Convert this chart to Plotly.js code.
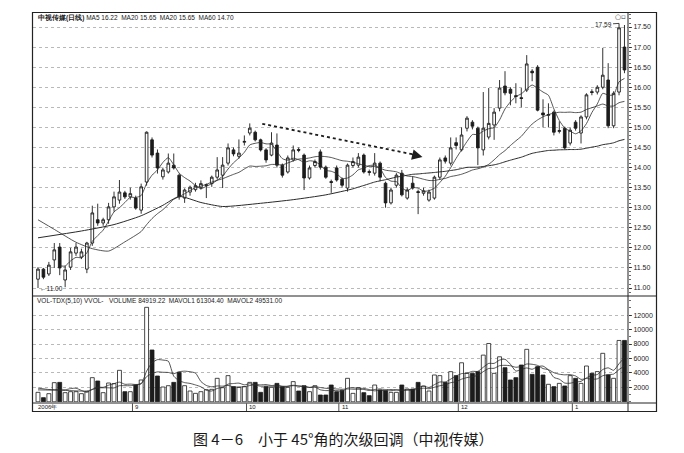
<!DOCTYPE html>
<html>
<head>
<meta charset="utf-8">
<script src="https://cdn.plot.ly/plotly-3.0.1.min.js"></script>
<style>
  html, body { margin: 0; padding: 0; background: #ffffff; }
  #chart { width: 684px; height: 453px; }
</style>
</head>
<body>
<div id="chart"></div>
<script>
// 中视传媒 daily bars, 2006-08 .. 2007-01 (index = trading day)
const opens = [
  11.22, 11.47, 11.35, 11.70, 12.02, 11.20, 11.52, 11.87, 11.77, 11.47,
  12.12, 12.70, 12.62, 12.70, 13.02, 13.19, 13.37, 13.27, 13.24, 12.94,
  13.64, 14.69, 14.36, 13.77, 13.89, 14.06, 13.81, 13.24, 13.39, 13.45,
  13.50, 13.55, 13.60, 13.76, 13.81, 14.11, 14.44, 14.28, 14.63, 14.86,
  14.88, 14.69, 14.44, 14.31, 14.56, 14.06, 13.89, 14.19, 14.45, 14.31,
  13.74, 14.05, 14.39, 14.01, 13.65, 13.99, 13.71, 13.49, 14.05, 14.06,
  14.31, 13.90, 13.86, 14.11, 13.61, 13.12, 13.56, 13.86, 13.24, 13.61,
  13.40, 13.36, 13.19, 13.24, 13.76, 14.24, 14.11, 14.62, 14.44, 14.98,
  15.13, 14.98, 14.44, 14.76, 15.06, 15.48, 16.03, 15.95, 15.79, 15.74,
  15.93, 16.40, 16.50, 15.36, 15.30, 15.38, 14.90, 14.98, 14.61, 15.13,
  14.86, 15.26, 15.89, 15.88, 16.00, 16.18, 15.04, 15.88, 17.00
];
const highs = [
  11.52, 11.50, 11.65, 12.12, 12.12, 11.55, 12.00, 12.12, 11.98, 12.15,
  13.05, 13.10, 12.75, 13.12, 13.40, 13.69, 13.42, 13.50, 13.30, 13.60,
  14.90, 14.75, 14.45, 14.00, 14.35, 14.35, 13.85, 13.48, 13.55, 13.62,
  13.68, 13.60, 13.80, 14.26, 14.26, 14.60, 14.50, 14.70, 14.80, 15.10,
  14.92, 14.72, 14.48, 14.88, 14.85, 14.10, 14.30, 14.55, 14.50, 14.35,
  14.05, 14.20, 14.45, 14.05, 13.70, 14.05, 13.75, 14.10, 14.25, 14.36,
  14.35, 13.95, 14.36, 14.15, 13.65, 13.50, 13.86, 13.94, 13.50, 13.78,
  13.45, 13.50, 13.45, 13.80, 14.25, 14.30, 14.75, 14.75, 15.00, 15.28,
  15.18, 15.02, 15.88, 15.98, 15.48, 16.18, 16.40, 16.00, 16.10, 15.98,
  16.80, 16.45, 16.55, 15.70, 15.60, 15.42, 15.15, 15.02, 15.00, 15.18,
  15.30, 15.85, 15.95, 16.05, 16.98, 16.60, 15.90, 17.59, 17.55
];
const lows = [
  11.00, 11.22, 11.30, 11.50, 11.32, 11.02, 11.45, 11.80, 11.72, 11.37,
  12.05, 12.55, 12.55, 12.60, 12.90, 13.10, 13.22, 13.20, 12.95, 12.85,
  13.55, 14.25, 13.85, 13.70, 13.85, 13.95, 13.20, 13.12, 13.30, 13.40,
  13.45, 13.24, 13.52, 13.70, 13.49, 14.05, 14.28, 14.22, 14.55, 14.80,
  14.65, 14.40, 14.12, 14.28, 14.00, 13.75, 13.85, 14.15, 14.38, 13.44,
  13.70, 14.00, 13.95, 13.72, 13.37, 13.65, 13.50, 13.40, 14.00, 14.00,
  13.85, 13.80, 13.80, 13.66, 13.00, 13.08, 13.50, 13.28, 13.20, 13.45,
  12.84, 13.30, 13.15, 13.20, 13.70, 14.10, 14.05, 14.45, 14.40, 14.90,
  14.95, 14.06, 14.30, 14.70, 14.69, 15.40, 15.80, 15.55, 15.60, 15.50,
  15.88, 16.15, 15.40, 15.00, 15.00, 14.80, 14.85, 14.45, 14.55, 14.92,
  14.60, 15.20, 15.80, 15.82, 15.95, 14.98, 14.98, 15.80, 16.35
];
const closes = [
  11.47, 11.27, 11.57, 11.95, 11.50, 11.45, 11.90, 12.02, 11.90, 12.12,
  12.87, 12.62, 12.70, 13.02, 13.27, 13.39, 13.27, 13.35, 12.99, 13.52,
  14.88, 14.31, 13.99, 13.94, 14.11, 13.99, 13.27, 13.44, 13.51, 13.55,
  13.60, 13.57, 13.76, 13.94, 14.06, 14.49, 14.34, 14.36, 14.65, 14.98,
  14.69, 14.44, 14.19, 14.61, 14.06, 13.81, 14.24, 14.44, 14.43, 13.74,
  13.99, 14.15, 14.01, 13.76, 13.63, 13.69, 13.56, 14.06, 14.15, 14.26,
  13.89, 13.88, 14.11, 13.76, 13.12, 13.44, 13.81, 13.32, 13.44, 13.49,
  13.38, 13.42, 13.39, 13.76, 14.19, 14.16, 14.49, 14.55, 14.81, 15.23,
  15.03, 14.49, 14.98, 15.10, 15.38, 15.98, 15.86, 15.85, 15.77, 15.72,
  16.58, 16.36, 15.43, 15.31, 15.32, 14.88, 14.92, 14.49, 14.93, 14.98,
  15.26, 15.81, 15.87, 16.00, 16.30, 15.04, 15.85, 17.48, 16.43
];
const volumes = [
  13100, 5700, 11250, 26500, 26900, 12650, 14000, 14000, 11250, 14000,
  33400, 28800, 12650, 26000, 25100, 43550, 14000, 14000, 23250, 30200,
  130750, 71700, 35700, 20500, 22300, 26900, 40800, 22300, 14950, 11700,
  14000, 16800, 17250, 32500, 19550, 36200, 20950, 20000, 20950, 26900,
  26900, 13100, 20950, 20000, 25500, 20950, 20000, 27900, 14950, 22300,
  14000, 22300, 9400, 9400, 23250, 14000, 15900, 32500, 11700, 19550,
  12650, 8500, 23250, 16350, 15450, 13100, 13100, 23250, 17700, 17700,
  26900, 21900, 14950, 37100, 36200, 26900, 41700, 36200, 54000, 39400,
  39400, 41700, 64600, 80700, 39400, 62300, 47200, 30200, 33400, 50900,
  72600, 38000, 48600, 37100, 24200, 20950, 25500, 21900, 36200, 32500,
  25500, 49550, 39400, 41838, 67102.78, 37100, 32500, 84900, 84919.22
];

// moving-average values before the first full window
const ma20LeadIdx = [0, 3, 7, 10, 13, 16];
const ma20LeadVal = [12.70, 12.46, 12.14, 11.98, 11.92, 12.15];
const ma60LeadIdx = [0, 8, 14, 19, 23, 26, 30, 34, 41, 47, 53, 58];
const ma60LeadVal = [12.25, 12.42, 12.58, 12.80, 13.06, 13.28, 13.13, 13.03, 13.11, 13.20, 13.32, 13.47];
const volMa5LeadIdx = [0, 2];
const volMa5LeadVal = [19000, 17000];
const volMa10LeadIdx = [0, 4];
const volMa10LeadVal = [16500, 16000];

// axis labels
const priceTicks = [11.00, 11.50, 12.00, 12.50, 13.00, 13.50, 14.00, 14.50, 15.00, 15.50, 16.00, 16.50, 17.00, 17.50];
const volTickVals = [20000, 40000, 60000, 80000, 100000, 120000];
const volTickText = ['2000', '4000', '6000', '8000', '10000', '12000'];
const monthIdx = [0, 18, 39, 56, 78, 99];
const monthText = ['2006年', '9', '10', '11', '12', '1'];

const W = 684, H = 453;
const px = v => v / W;
const py = v => 1 - v / H;

const n = closes.length;
const xi = closes.map((_, i) => i);

function rollingMean(arr, len) {
  return arr.map((_, i) => {
    if (i < len - 1) return null;
    let s = 0;
    for (let k = i - len + 1; k <= i; k++) s += arr[k];
    return s / len;
  });
}
function joinLead(leadIdx, leadVal, full, len) {
  const xs = leadIdx.slice(), ys = leadVal.slice();
  for (let i = len - 1; i < full.length; i++) { xs.push(i); ys.push(full[i]); }
  return { xs, ys };
}

const ma5 = rollingMean(closes, 5);
const ma20 = rollingMean(closes, 20);
const ma60 = rollingMean(closes, 60);
const vma5 = rollingMean(volumes, 5);
const vma10 = rollingMean(volumes, 10);

const ma20Line = joinLead(ma20LeadIdx, ma20LeadVal, ma20, 20);
const ma60Line = joinLead(ma60LeadIdx, ma60LeadVal, ma60, 60);
const vma5Line = joinLead(volMa5LeadIdx, volMa5LeadVal, vma5, 5);
const vma10Line = joinLead(volMa10LeadIdx, volMa10LeadVal, vma10, 10);

const INK = '#1c1c1c';
const up = closes.map((c, i) => c >= opens[i]);

const lineStyle = w => ({ color: '#2a2a2a', width: w, shape: 'spline', smoothing: 0.6 });

const traces = [
  {
    type: 'candlestick', x: xi, open: opens, high: highs, low: lows, close: closes,
    xaxis: 'x', yaxis: 'y', whiskerwidth: 0, hoverinfo: 'skip', showlegend: false,
    increasing: { line: { color: INK, width: 0.9 }, fillcolor: '#ffffff' },
    decreasing: { line: { color: INK, width: 0.9 }, fillcolor: INK }
  },
  { type: 'scatter', mode: 'lines', x: xi.slice(4), y: ma5.slice(4), xaxis: 'x', yaxis: 'y', line: lineStyle(0.8), hoverinfo: 'skip', showlegend: false },
  { type: 'scatter', mode: 'lines', x: ma20Line.xs, y: ma20Line.ys, xaxis: 'x', yaxis: 'y', line: lineStyle(0.8), hoverinfo: 'skip', showlegend: false },
  { type: 'scatter', mode: 'lines', x: ma60Line.xs, y: ma60Line.ys, xaxis: 'x', yaxis: 'y', line: lineStyle(1.0), hoverinfo: 'skip', showlegend: false },
  {
    type: 'bar', x: xi, y: volumes, xaxis: 'x2', yaxis: 'y2', width: 0.72,
    marker: { color: up.map(u => u ? '#ffffff' : INK), line: { color: INK, width: 0.8 } },
    hoverinfo: 'skip', showlegend: false
  },
  { type: 'scatter', mode: 'lines', x: vma5Line.xs, y: vma5Line.ys, xaxis: 'x2', yaxis: 'y2', line: lineStyle(0.8), hoverinfo: 'skip', showlegend: false },
  { type: 'scatter', mode: 'lines', x: vma10Line.xs, y: vma10Line.ys, xaxis: 'x2', yaxis: 'y2', line: lineStyle(0.8), hoverinfo: 'skip', showlegend: false }
];

const f2 = v => v.toFixed(2);
const last = n - 1;
const maxHigh = Math.max(...highs);
const minLow = Math.min(...lows);
const hiIdx = highs.indexOf(maxHigh);
const loIdx = lows.indexOf(minLow);

const smallFont = { family: 'Liberation Sans, Arial, sans-serif', size: 6.5, color: '#1a1a1a' };
const tickFont = { family: 'Liberation Sans, Arial, sans-serif', size: 7, color: '#1a1a1a' };

const xRange = [-0.92, 108.65];
const xDom = [px(33), px(628)];

const annotations = [
  {
    xref: 'paper', yref: 'paper', x: px(36), y: py(18), xanchor: 'left', yanchor: 'middle', showarrow: false,
    text: '<b>中视传媒(日线)</b> MA5 ' + f2(ma5[last]) + '  MA20 ' + f2(ma20[last]) + '  MA20 ' + f2(ma20[last]) + '  MA60 ' + f2(ma60[last]),
    font: smallFont
  },
  {
    xref: 'paper', yref: 'paper', x: px(35), y: py(300.5), xanchor: 'left', yanchor: 'middle', showarrow: false,
    text: 'VOL-TDX(5,10) VVOL-   VOLUME ' + f2(volumes[last]) + '  MAVOL1 ' + f2(vma5[last]) + '  MAVOL2 ' + f2(vma10[last]),
    font: smallFont
  },
  {
    xref: 'x', yref: 'y', x: hiIdx, y: maxHigh, text: f2(maxHigh), showarrow: true,
    arrowhead: 0, arrowwidth: 0.8, arrowcolor: INK, ax: -16, ay: 1, font: smallFont
  },
  {
    xref: 'x', yref: 'y', x: loIdx, y: minLow, text: '←' + f2(minLow), showarrow: false,
    xanchor: 'left', yanchor: 'middle', xshift: 0, font: smallFont
  },
  {
    xref: 'paper', yref: 'paper', x: px(620), y: py(17), text: '○▫', showarrow: false,
    xanchor: 'center', yanchor: 'middle', font: { family: 'DejaVu Sans', size: 7, color: '#333' }
  },
  // trend arrow head
  {
    xref: 'x', yref: 'y', x: 70.8, y: 14.26, ax: -12, ay: -3, text: '', showarrow: true,
    arrowhead: 2, arrowsize: 1.3, arrowwidth: 1.6, arrowcolor: INK
  },
  {
    xref: 'paper', yref: 'paper', x: px(343), y: py(438), xanchor: 'center', yanchor: 'middle', showarrow: false,
    text: '图 4－6　小于 45°角的次级回调（中视传媒）',
    font: { family: 'Noto Sans CJK SC, sans-serif', size: 15, color: '#1a1a1a' }
  }
];
monthIdx.forEach((m, k) => {
  annotations.push({
    xref: 'x2', yref: 'paper', x: m - 0.45, y: py(407), xanchor: 'left', yanchor: 'middle', showarrow: false,
    text: monthText[k], font: { family: 'Liberation Sans, Arial, sans-serif', size: 6, color: '#1a1a1a' }
  });
});

const frame = { color: '#222', width: 1 };
const shapes = [
  { type: 'rect', xref: 'paper', yref: 'paper', x0: px(32.5), x1: px(656.5), y0: py(411.5), y1: py(12.5), line: { color: '#222', width: 1.2 } },
  { type: 'line', xref: 'paper', yref: 'paper', x0: px(628), x1: px(628), y0: py(411.5), y1: py(12.5), line: frame },
  { type: 'line', xref: 'paper', yref: 'paper', x0: px(32.5), x1: px(656.5), y0: py(296), y1: py(296), line: frame },
  { type: 'line', xref: 'paper', yref: 'paper', x0: px(32.5), x1: px(656.5), y0: py(403), y1: py(403), line: frame },
  // dotted trend line
  { type: 'line', xref: 'x', yref: 'y', x0: 41.3, y0: 15.09, x1: 69.0, y1: 14.33, line: { color: INK, width: 1.8, dash: 'dot' } }
];
monthIdx.forEach(m => {
  if (m === 0) return;
  shapes.push({ type: 'line', xref: 'x2', yref: 'paper', x0: m - 0.6, x1: m - 0.6, y0: py(411), y1: py(403.5), line: { color: '#222', width: 0.8 } });
});

const layout = {
  width: W, height: H,
  margin: { l: 0, r: 0, t: 0, b: 0 },
  paper_bgcolor: '#ffffff', plot_bgcolor: '#ffffff',
  showlegend: false,
  boxgap: 0.3,
  xaxis: {
    domain: xDom, range: xRange, anchor: 'y', visible: false, fixedrange: true,
    rangeslider: { visible: false }
  },
  yaxis: {
    domain: [py(295), py(13)], range: [10.826, 17.849], anchor: 'x', side: 'right',
    tickvals: priceTicks, tickformat: '.2f', ticks: 'outside', ticklen: 3, tickwidth: 0.8, tickcolor: '#222',
    tickfont: tickFont, showgrid: true, gridcolor: '#a8a8a8', griddash: 'dot', gridwidth: 0.8,
    zeroline: false, showline: false, fixedrange: true,
    minor: { tickmode: 'linear', tick0: 11, dtick: 0.1, ticks: 'outside', ticklen: 1.5, tickcolor: '#444', showgrid: false }
  },
  xaxis2: { domain: xDom, range: xRange, anchor: 'y2', visible: false, fixedrange: true },
  yaxis2: {
    domain: [py(402), py(297)], range: [-277, 145043], anchor: 'x2', side: 'right',
    tickvals: volTickVals, ticktext: volTickText, ticks: 'outside', ticklen: 3, tickwidth: 0.8, tickcolor: '#222',
    tickfont: tickFont, showgrid: true, gridcolor: '#a8a8a8', griddash: 'dot', gridwidth: 0.8,
    zeroline: false, showline: false, fixedrange: true,
    minor: { tickmode: 'linear', tick0: 0, dtick: 10000, ticks: 'outside', ticklen: 1.5, tickcolor: '#444', showgrid: false }
  },
  annotations: annotations,
  shapes: shapes
};

Plotly.newPlot('chart', traces, layout, { staticPlot: true, displayModeBar: false });
</script>
</body>
</html>
